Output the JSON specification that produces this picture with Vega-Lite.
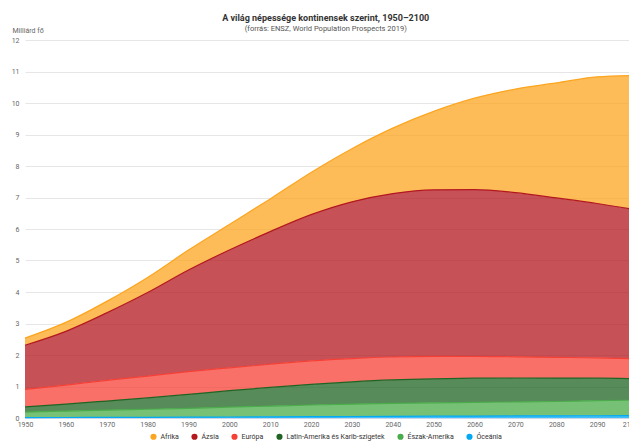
{
  "$schema": "https://vega.github.io/schema/vega-lite/v6.json",
  "width": 613,
  "height": 378,
  "autosize": "none",
  "padding": {"left": 25, "top": 40, "right": 0, "bottom": 29},
  "background": "white",
  "config": {
    "font": "Roboto",
    "view": {"stroke": null}
  },
  "title": {
    "text": "A világ népessége kontinensek szerint, 1950–2100",
    "subtitle": "(forrás: ENSZ, World Population Prospects 2019)",
    "fontSize": 9,
    "fontWeight": "bold",
    "color": "#333333",
    "subtitleFontSize": 7.5,
    "subtitleColor": "#555555",
    "subtitlePadding": 2,
    "anchor": "middle",
    "frame": "bounds",
    "offset": -6
  },
  "datasets": {
    "rangsor": [
      {"kontinens": "Afrika", "rang": 1},
      {"kontinens": "Ázsia", "rang": 2},
      {"kontinens": "Európa", "rang": 3},
      {"kontinens": "Latin-Amerika és Karib-szigetek", "rang": 4},
      {"kontinens": "Észak-Amerika", "rang": 5},
      {"kontinens": "Óceánia", "rang": 6}
    ]
  },
  "data": {
    "values": [
      {"ev": 1950, "Afrika": 0.228, "Ázsia": 1.405, "Európa": 0.549, "Latin-Amerika és Karib-szigetek": 0.169, "Észak-Amerika": 0.173, "Óceánia": 0.013},
      {"ev": 1960, "Afrika": 0.285, "Ázsia": 1.705, "Európa": 0.605, "Latin-Amerika és Karib-szigetek": 0.220, "Észak-Amerika": 0.205, "Óceánia": 0.016},
      {"ev": 1970, "Afrika": 0.366, "Ázsia": 2.142, "Európa": 0.657, "Latin-Amerika és Karib-szigetek": 0.287, "Észak-Amerika": 0.231, "Óceánia": 0.020},
      {"ev": 1980, "Afrika": 0.480, "Ázsia": 2.650, "Európa": 0.694, "Latin-Amerika és Karib-szigetek": 0.361, "Észak-Amerika": 0.254, "Óceánia": 0.023},
      {"ev": 1990, "Afrika": 0.635, "Ázsia": 3.226, "Európa": 0.721, "Latin-Amerika és Karib-szigetek": 0.443, "Észak-Amerika": 0.280, "Óceánia": 0.027},
      {"ev": 2000, "Afrika": 0.811, "Ázsia": 3.741, "Európa": 0.726, "Latin-Amerika és Karib-szigetek": 0.522, "Észak-Amerika": 0.313, "Óceánia": 0.031},
      {"ev": 2010, "Afrika": 1.039, "Ázsia": 4.210, "Európa": 0.736, "Latin-Amerika és Karib-szigetek": 0.591, "Észak-Amerika": 0.343, "Óceánia": 0.037},
      {"ev": 2020, "Afrika": 1.341, "Ázsia": 4.641, "Európa": 0.748, "Latin-Amerika és Karib-szigetek": 0.654, "Észak-Amerika": 0.369, "Óceánia": 0.043},
      {"ev": 2030, "Afrika": 1.688, "Ázsia": 4.974, "Európa": 0.741, "Latin-Amerika és Karib-szigetek": 0.706, "Észak-Amerika": 0.393, "Óceánia": 0.048},
      {"ev": 2040, "Afrika": 2.077, "Ázsia": 5.188, "Európa": 0.728, "Latin-Amerika és Karib-szigetek": 0.741, "Észak-Amerika": 0.414, "Óceánia": 0.053},
      {"ev": 2050, "Afrika": 2.489, "Ázsia": 5.290, "Európa": 0.710, "Latin-Amerika és Karib-szigetek": 0.762, "Észak-Amerika": 0.425, "Óceánia": 0.057},
      {"ev": 2060, "Afrika": 2.900, "Ázsia": 5.300, "Európa": 0.690, "Latin-Amerika és Karib-szigetek": 0.768, "Észak-Amerika": 0.434, "Óceánia": 0.061},
      {"ev": 2070, "Afrika": 3.290, "Ázsia": 5.210, "Európa": 0.673, "Latin-Amerika és Karib-szigetek": 0.760, "Észak-Amerika": 0.445, "Óceánia": 0.065},
      {"ev": 2080, "Afrika": 3.650, "Ázsia": 5.060, "Európa": 0.660, "Latin-Amerika és Karib-szigetek": 0.742, "Észak-Amerika": 0.456, "Óceánia": 0.068},
      {"ev": 2090, "Afrika": 4.020, "Ázsia": 4.900, "Európa": 0.645, "Latin-Amerika és Karib-szigetek": 0.713, "Észak-Amerika": 0.480, "Óceánia": 0.072},
      {"ev": 2100, "Afrika": 4.280, "Ázsia": 4.720, "Európa": 0.630, "Latin-Amerika és Karib-szigetek": 0.680, "Észak-Amerika": 0.491, "Óceánia": 0.075}
    ]
  },
  "transform": [
    {"fold": ["Afrika", "Ázsia", "Európa", "Latin-Amerika és Karib-szigetek", "Észak-Amerika", "Óceánia"], "as": ["kontinens", "nepesseg"]},
    {"lookup": "kontinens", "from": {"data": {"name": "rangsor"}, "key": "kontinens", "fields": ["rang"]}}
  ],
  "mark": {"type": "area", "interpolate": "monotone", "fillOpacity": 0.75, "line": {"strokeWidth": 1.2}},
  "encoding": {
    "x": {
      "field": "ev",
      "type": "quantitative",
      "scale": {"domain": [1950, 2100], "nice": false, "zero": false},
      "axis": {
        "title": null,
        "values": [1950, 1960, 1970, 1980, 1990, 2000, 2010, 2020, 2030, 2040, 2050, 2060, 2070, 2080, 2090, 2100],
        "format": "d",
        "labelFontSize": 7,
        "labelColor": "#666666",
        "labelPadding": 2,
        "labelFlush": false,
        "labelOverlap": false,
        "labelAlign": {"expr": "datum.value == 2100 ? 'right' : 'center'"},
        "labelOffset": {"expr": "datum.value == 2100 ? 0 : 0"},
        "labelDx": {"expr": "datum.value == 2100 ? -3 : 0"},
        "ticks": false,
        "domain": true,
        "domainColor": "#ccd6eb",
        "grid": false
      }
    },
    "y": {
      "field": "nepesseg",
      "type": "quantitative",
      "stack": "zero",
      "scale": {"domain": [0, 12], "nice": false},
      "axis": {
        "title": "Milliárd fő",
        "titleAngle": 0,
        "titleAlign": "left",
        "titleBaseline": "bottom",
        "titleX": -13,
        "titleY": -7,
        "titleFontSize": 7,
        "titleFontWeight": "normal",
        "titleColor": "#666666",
        "values": [0, 1, 2, 3, 4, 5, 6, 7, 8, 9, 10, 11, 12],
        "labelFontSize": 7,
        "labelColor": "#666666",
        "labelPadding": 6,
        "ticks": false,
        "domain": false,
        "grid": true,
        "gridColor": "#e6e6e6",
        "gridWidth": 1
      }
    },
    "order": {"field": "rang", "type": "quantitative", "sort": "descending"},
    "color": {
      "field": "kontinens",
      "type": "nominal",
      "sort": ["Afrika", "Ázsia", "Európa", "Latin-Amerika és Karib-szigetek", "Észak-Amerika", "Óceánia"],
      "scale": {
        "domain": ["Afrika", "Ázsia", "Európa", "Latin-Amerika és Karib-szigetek", "Észak-Amerika", "Óceánia"],
        "range": ["#fca51f", "#b3181f", "#f64036", "#206423", "#4aac4a", "#03a9f4"]
      },
      "legend": {
        "title": null,
        "orient": "none",
        "direction": "horizontal",
        "legendX": 125,
        "legendY": 393,
        "symbolType": "circle",
        "symbolSize": 38,
        "symbolOpacity": 1,
        "symbolStrokeWidth": 0,
        "labelFontSize": 7,
        "labelColor": "#333333",
        "labelOffset": 3.5,
        "columnPadding": 12,
        "symbolOffset": 0
      }
    }
  }
}
